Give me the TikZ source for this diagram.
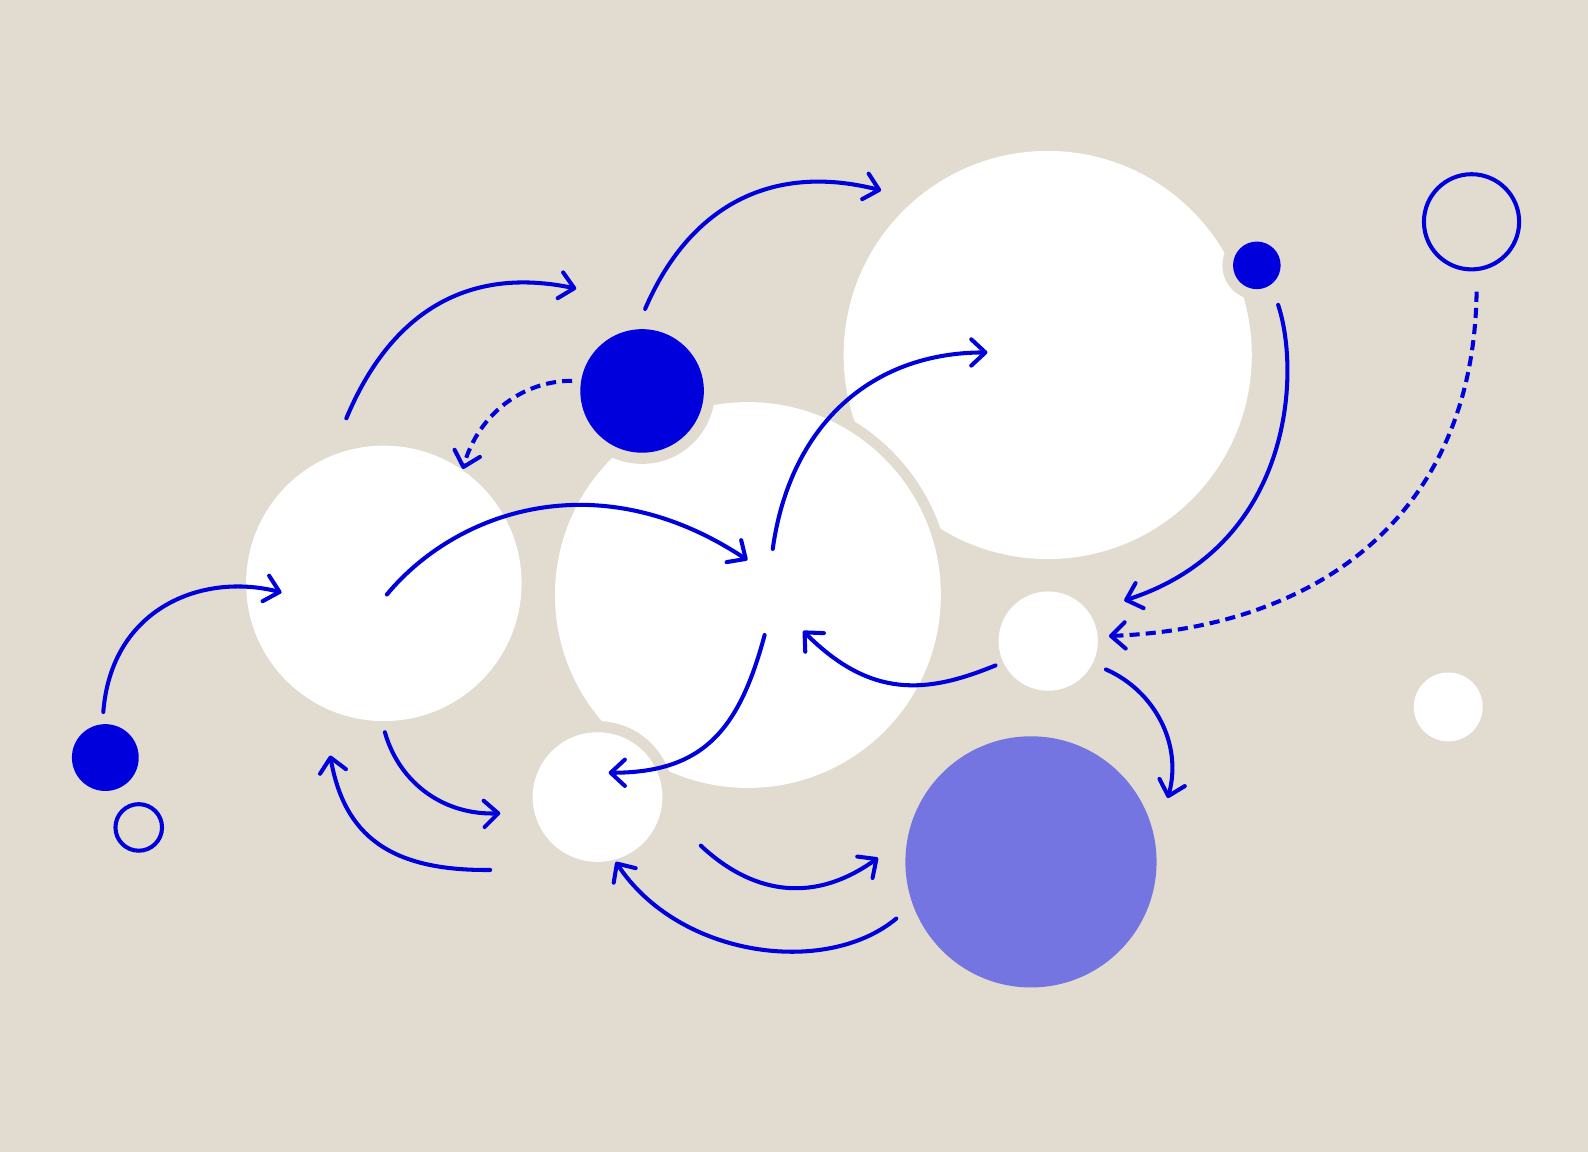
\documentclass[tikz,border=0pt]{standalone}
\usetikzlibrary{arrows.meta}
\definecolor{bg}{HTML}{E1DCCF}
\definecolor{vblue}{HTML}{0000DC}
\definecolor{lilac}{HTML}{7575E2}
\begin{document}
\begin{tikzpicture}[x=0.5pt,y=-0.5pt,
 disc/.style={circle, inner sep=0pt, outer sep=0pt, minimum size=#1},
 white disc/.style={disc=#1, fill=white},
 blue disc/.style={disc=#1, fill=vblue},
 halo/.style={disc=#1, fill=bg},
 ring/.style={disc=#1, draw=vblue, line width=2pt},
 conn/.style={draw=vblue, line width=2pt, line cap=round, line join=round,
   -{Straight Barb[length=7pt,width=13pt,round]}},
 dconn/.style={conn, line cap=butt, dash pattern=on 5pt off 3pt},
]
\fill[bg] (0,0) rectangle (1568,1137.4);
\useasboundingbox (0,0) rectangle (1568,1137.4);

% circles
\node[white disc=201.5pt] (bigc) at (1034.5,350.5) {};
\node[halo=201pt] (midh) at (738.5,587.5) {};
\node[white disc=190.5pt] (midc) at (738.5,587.5) {};
\node[white disc=136pt] (leftc) at (379,576) {};
\node[halo=72pt] (bluebh) at (634,386) {};
\node[blue disc=61pt] (blueb) at (634,386) {};
\node[halo=75pt] (smallh) at (590,787) {};
\node[white disc=64pt] (smallw) at (590,787) {};
\node[halo=34pt] (dotTRh) at (1241,262) {};
\node[blue disc=23.5pt] (dotTR) at (1241,262) {};
\node[white disc=49pt] (rightw) at (1035,633) {};
\node[white disc=34pt] (farw) at (1430,698) {};
\node[disc=124pt, fill=lilac] (purp) at (1018,851) {};
\node[blue disc=33pt] (blueL) at (104,748) {};
\node[ring=23pt] (ringL) at (137,817) {};
\node[ring=47pt] (ringTR) at (1453,219) {};

% connector end points
\coordinate (a1s) at (102,703);  \coordinate (a1e) at (278,585);
\coordinate (a2s) at (342,413);  \coordinate (a2e) at (569,285);
\coordinate (a3s) at (637,305);  \coordinate (a3e) at (870,188);
\coordinate (a4s) at (565,376);  \coordinate (a4e) at (457,463);
\coordinate (a5s) at (382,587);  \coordinate (a5e) at (738,553);
\coordinate (a6s) at (763,542);  \coordinate (a6e) at (975,348);
\coordinate (a7s) at (1262,301); \coordinate (a7e) at (1110,593);
\coordinate (a8s) at (1458,288); \coordinate (a8e) at (1095,628);
\coordinate (a9s) at (983,657);  \coordinate (a9e) at (793,623);
\coordinate (a10s) at (755,627); \coordinate (a10e) at (601,763);
\coordinate (a11s) at (1092,661);\coordinate (a11e) at (1153,788);
\coordinate (a12s) at (380,723); \coordinate (a12e) at (494,803);
\coordinate (a13s) at (484,859); \coordinate (a13e) at (326,746);
\coordinate (a14s) at (692,835); \coordinate (a14e) at (867,847);
\coordinate (a15s) at (885,907); \coordinate (a15e) at (608,851);

% connectors
\draw[conn] (a1s) .. controls (110,600) and (200,565) .. (a1e);
\draw[conn] (a2s) .. controls (385,310) and (460,262) .. (a2e);
\draw[conn] (a3s) .. controls (680,205) and (760,160) .. (a3e);
\draw[dconn] (a4s) .. controls (515,376) and (472,410) .. (a4e);
\draw[conn] (a5s) .. controls (450,505) and (590,455) .. (a5e);
\draw[conn] (a6s) .. controls (780,420) and (860,348) .. (a6e);
\draw[conn] (a7s) .. controls (1285,370) and (1275,540) .. (a7e);
\draw[dconn] (a8s) .. controls (1455,510) and (1300,620) .. (a8e);
\draw[conn] (a9s) .. controls (915,685) and (860,690) .. (a9e);
\draw[conn] (a10s) .. controls (730,720) and (695,763) .. (a10e);
\draw[conn] (a11s) .. controls (1140,682) and (1168,735) .. (a11e);
\draw[conn] (a12s) .. controls (395,775) and (440,805) .. (a12e);
\draw[conn] (a13s) .. controls (385,860) and (340,825) .. (a13e);
\draw[conn] (a14s) .. controls (740,880) and (800,895) .. (a14e);
\draw[conn] (a15s) .. controls (815,965) and (670,945) .. (a15e);
\end{tikzpicture}
\end{document}
